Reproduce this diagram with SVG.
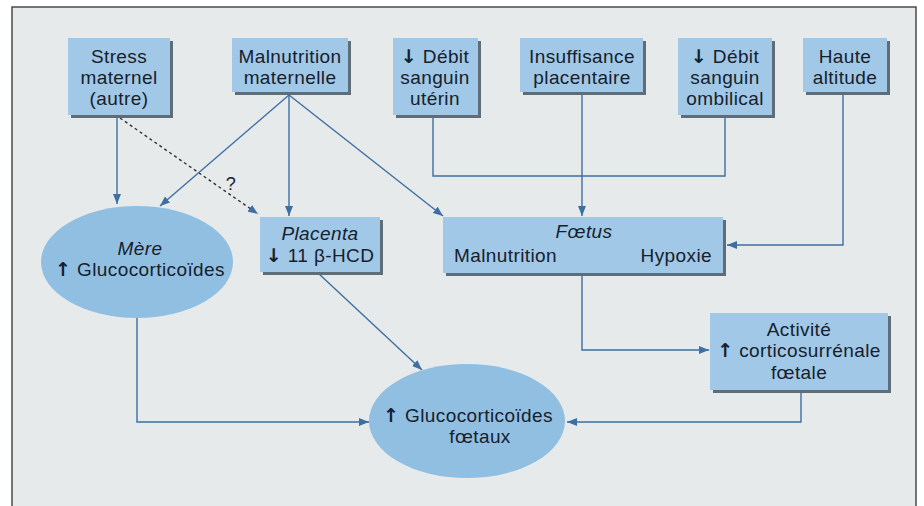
<svg xmlns="http://www.w3.org/2000/svg" width="924" height="506" viewBox="0 0 924 506">
<defs>
<marker id="ah" viewBox="0 0 10 8" refX="10" refY="4" markerWidth="10" markerHeight="8" markerUnits="userSpaceOnUse" orient="auto">
<path d="M0,0 L10,4 L0,8 Z" fill="#3d6fa3"/>
</marker>
<style>
.t{font-family:"Liberation Sans",Arial,sans-serif;font-size:19px;fill:#16212c;text-anchor:middle;letter-spacing:0.4px}
.i{font-style:italic}
.a{font-weight:bold;font-family:"DejaVu Sans","Liberation Sans",sans-serif}
.box{fill:#a1c8e6}
.sh{fill:#5f6d78}
.ell{fill:#91bfe2}
.ln{fill:none;stroke:#3d6fa3;stroke-width:1.4}
.dash{fill:none;stroke:#333;stroke-width:1.4;stroke-dasharray:3 3}
</style>
</defs>
<rect x="0" y="0" width="924" height="506" fill="#ffffff"/>
<rect x="12" y="7" width="904" height="500" fill="#e7eaeb" stroke="#4a4a4a" stroke-width="1.5"/>

<g id="connectors">
<line class="ln" x1="117" y1="115" x2="117" y2="204" marker-end="url(#ah)"/>
<line class="dash" x1="120" y1="118" x2="258" y2="214" marker-end="url(#ah)"/>
<text class="t" x="231" y="190" style="font-size:18px">?</text>
<line class="ln" x1="289" y1="95" x2="160" y2="206" marker-end="url(#ah)"/>
<line class="ln" x1="289" y1="95" x2="289" y2="216" marker-end="url(#ah)"/>
<line class="ln" x1="289" y1="95" x2="443" y2="216" marker-end="url(#ah)"/>
<polyline class="ln" points="433,115 433,176 725,176 725,115"/>
<line class="ln" x1="582" y1="92" x2="582" y2="216" marker-end="url(#ah)"/>
<polyline class="ln" points="843,92 843,245 727,245" marker-end="url(#ah)"/>
<polyline class="ln" points="582,273 582,350 709,350" marker-end="url(#ah)"/>
<polyline class="ln" points="801,390 801,422 567,422" marker-end="url(#ah)"/>
<line class="ln" x1="318" y1="273" x2="422" y2="370" marker-end="url(#ah)"/>
<polyline class="ln" points="137,318 137,422 369,422" marker-end="url(#ah)"/>
</g>

<g id="stress">
<rect class="sh" x="71" y="41" width="102" height="77"/>
<rect class="box" x="68" y="38" width="102" height="77"/>
<text class="t" x="119" y="63">Stress</text>
<text class="t" x="119" y="84">maternel</text>
<text class="t" x="119" y="105">(autre)</text>
</g>
<g id="malnutrition">
<rect class="sh" x="235" y="41" width="116" height="54"/>
<rect class="box" x="232" y="38" width="116" height="54"/>
<text class="t" x="290" y="63">Malnutrition</text>
<text class="t" x="290" y="84">maternelle</text>
</g>
<g id="uterin">
<rect class="sh" x="396" y="41" width="85" height="77"/>
<rect class="box" x="393" y="38" width="85" height="77"/>
<text class="t" x="435" y="63"><tspan class="a">↓</tspan> Débit</text>
<text class="t" x="435" y="84">sanguin</text>
<text class="t" x="435" y="105">utérin</text>
</g>
<g id="insuffisance">
<rect class="sh" x="523" y="41" width="123" height="54"/>
<rect class="box" x="520" y="38" width="123" height="54"/>
<text class="t" x="582" y="63">Insuffisance</text>
<text class="t" x="582" y="84">placentaire</text>
</g>
<g id="ombilical">
<rect class="sh" x="681" y="41" width="94" height="77"/>
<rect class="box" x="678" y="38" width="94" height="77"/>
<text class="t" x="725" y="63"><tspan class="a">↓</tspan> Débit</text>
<text class="t" x="725" y="84">sanguin</text>
<text class="t" x="725" y="105">ombilical</text>
</g>
<g id="altitude">
<rect class="sh" x="806" y="41" width="84" height="54"/>
<rect class="box" x="803" y="38" width="84" height="54"/>
<text class="t" x="845" y="63">Haute</text>
<text class="t" x="845" y="84">altitude</text>
</g>
<g id="mere">
<ellipse class="ell" cx="137" cy="262" rx="96" ry="56"/>
<text class="t i" x="140" y="255">Mère</text>
<text class="t" x="140" y="276"><tspan class="a">↑</tspan> Glucocorticoïdes</text>
</g>
<g id="placenta">
<rect class="sh" x="263" y="220" width="120" height="55"/>
<rect class="box" x="260" y="217" width="120" height="55"/>
<text class="t i" x="320" y="240">Placenta</text>
<text class="t" x="320" y="262"><tspan class="a">↓</tspan> 11 β-HCD</text>
</g>
<g id="foetus">
<rect class="sh" x="446" y="220" width="280" height="56"/>
<rect class="box" x="443" y="217" width="280" height="56"/>
<text class="t i" x="584" y="238">Fœtus</text>
<text class="t" x="454" y="262" style="text-anchor:start">Malnutrition</text>
<text class="t" x="712" y="262" style="text-anchor:end">Hypoxie</text>
</g>
<g id="activite">
<rect class="sh" x="713" y="316" width="178" height="77"/>
<rect class="box" x="710" y="313" width="178" height="77"/>
<text class="t" x="799" y="336">Activité</text>
<text class="t" x="799" y="357"><tspan class="a">↑</tspan> corticosurrénale</text>
<text class="t" x="799" y="379">fœtale</text>
</g>
<g id="gluco-foetaux">
<ellipse class="ell" cx="467" cy="421" rx="98" ry="57"/>
<text class="t" x="468" y="422"><tspan class="a">↑</tspan> Glucocorticoïdes</text>
<text class="t" x="480" y="443">fœtaux</text>
</g>
</svg>
